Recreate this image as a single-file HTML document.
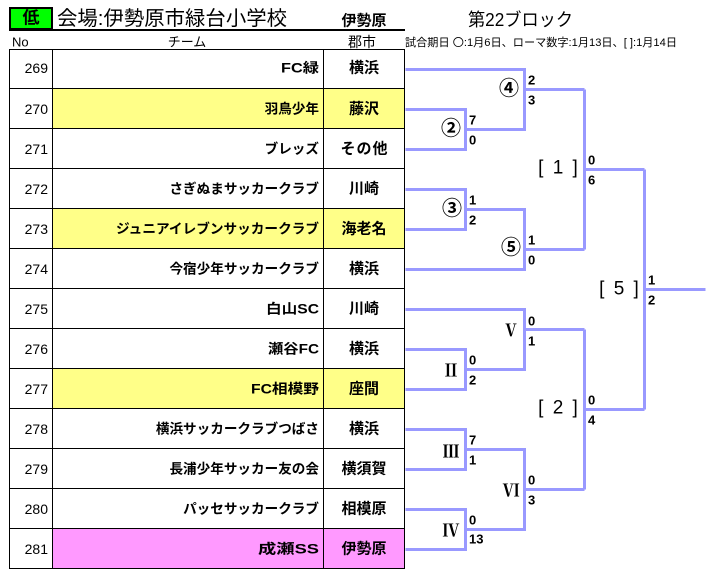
<!DOCTYPE html>
<html><head><meta charset="utf-8"><style>
html,body{margin:0;padding:0;background:#fff;}
svg{display:block;}
text{font-family:"Liberation Sans","Noto Sans CJK JP",sans-serif;}
.no{font-size:14px;text-anchor:end;}
.tm{font-size:13.6px;font-weight:bold;text-anchor:end;}
.ct{font-size:15px;font-weight:bold;text-anchor:middle;}
.sc{font-size:13px;font-weight:bold;}
.lb{font-size:20px;text-anchor:middle;font-weight:bold;}
.rm{font-family:"Noto Serif CJK SC","Liberation Serif",serif;font-size:17px;text-anchor:middle;font-weight:bold;}
.br{font-size:19px;text-anchor:middle;}
</style></head><body>
<svg width="714" height="574" viewBox="0 0 714 574" xmlns="http://www.w3.org/2000/svg" dominant-baseline="central">
<!-- header -->
<rect x="10" y="8" width="42" height="21" fill="#00ff00" stroke="#000" stroke-width="2"/>
<text x="31" y="18" font-size="17" font-weight="bold" text-anchor="middle">低</text>
<text x="57" y="19" font-size="20" textLength="230" lengthAdjust="spacingAndGlyphs">会場:伊勢原市緑台小学校</text>
<text x="364" y="21" font-size="15" font-weight="bold" text-anchor="middle">伊勢原</text>
<rect x="9" y="29" width="396" height="2" fill="#000"/>
<text x="12" y="42" font-size="13">No</text>
<text x="187" y="42" font-size="13" text-anchor="middle">チーム</text>
<text x="362" y="42" font-size="14" text-anchor="middle">郡市</text>
<text x="468" y="20" font-size="18" textLength="105" lengthAdjust="spacingAndGlyphs">第22ブロック</text>
<text x="405" y="43" font-size="11" textLength="272" lengthAdjust="spacingAndGlyphs">試合期日 〇:1月6日、ローマ数字:1月13日、[ ]:1月14日</text>

<!-- fills -->
<rect x="53" y="89" width="351" height="39" fill="#ffff88"/>
<rect x="53" y="209" width="351" height="39" fill="#ffff88"/>
<rect x="53" y="369" width="351" height="39" fill="#ffff88"/>
<rect x="53" y="529" width="351" height="39" fill="#ff99ff"/>

<!-- table grid -->
<g stroke="#000" stroke-width="1" fill="none">
<line x1="9" y1="49.5" x2="405" y2="49.5"/>
<line x1="9" y1="88.5" x2="405" y2="88.5"/>
<line x1="9" y1="128.5" x2="405" y2="128.5"/>
<line x1="9" y1="168.5" x2="405" y2="168.5"/>
<line x1="9" y1="208.5" x2="405" y2="208.5"/>
<line x1="9" y1="248.5" x2="405" y2="248.5"/>
<line x1="9" y1="288.5" x2="405" y2="288.5"/>
<line x1="9" y1="328.5" x2="405" y2="328.5"/>
<line x1="9" y1="368.5" x2="405" y2="368.5"/>
<line x1="9" y1="408.5" x2="405" y2="408.5"/>
<line x1="9" y1="448.5" x2="405" y2="448.5"/>
<line x1="9" y1="488.5" x2="405" y2="488.5"/>
<line x1="9" y1="528.5" x2="405" y2="528.5"/>
<line x1="9" y1="568.5" x2="405" y2="568.5"/>
<line x1="9.5" y1="49" x2="9.5" y2="569"/>
<line x1="52.5" y1="49" x2="52.5" y2="569"/>
<line x1="323.5" y1="49" x2="323.5" y2="569"/>
<line x1="404.5" y1="49" x2="404.5" y2="569"/>
</g>

<!-- table text -->
<text class="no" x="48" y="68">269</text>
<text class="tm" x="319" y="68" textLength="38" lengthAdjust="spacingAndGlyphs">FC緑</text>
<text class="ct" x="364" y="68">横浜</text>

<text class="no" x="48" y="109">270</text>
<text class="tm" x="319" y="109">羽鳥少年</text>
<text class="ct" x="364" y="109">藤沢</text>

<text class="no" x="48" y="149">271</text>
<text class="tm" x="319" y="149">ブレッズ</text>
<text class="ct" x="364" y="149" textLength="47" lengthAdjust="spacing">その他</text>

<text class="no" x="48" y="189">272</text>
<text class="tm" x="319" y="189">さぎぬまサッカークラブ</text>
<text class="ct" x="364" y="189">川崎</text>

<text class="no" x="48" y="229">273</text>
<text class="tm" x="319" y="229" textLength="203" lengthAdjust="spacingAndGlyphs">ジュニアイレブンサッカークラブ</text>
<text class="ct" x="364" y="229">海老名</text>

<text class="no" x="48" y="269">274</text>
<text class="tm" x="319" y="269">今宿少年サッカークラブ</text>
<text class="ct" x="364" y="269">横浜</text>

<text class="no" x="48" y="309">275</text>
<text class="tm" x="319" y="309" textLength="53" lengthAdjust="spacingAndGlyphs">白山SC</text>
<text class="ct" x="364" y="309">川崎</text>

<text class="no" x="48" y="349">276</text>
<text class="tm" x="319" y="349" textLength="51" lengthAdjust="spacingAndGlyphs">瀬谷FC</text>
<text class="ct" x="364" y="349">横浜</text>

<text class="no" x="48" y="389">277</text>
<text class="tm" x="319" y="389" textLength="68" lengthAdjust="spacingAndGlyphs">FC相模野</text>
<text class="ct" x="364" y="389">座間</text>

<text class="no" x="48" y="429">278</text>
<text class="tm" x="319" y="429">横浜サッカークラブつばさ</text>
<text class="ct" x="364" y="429">横浜</text>

<text class="no" x="48" y="469">279</text>
<text class="tm" x="319" y="469">長浦少年サッカー友の会</text>
<text class="ct" x="364" y="469">横須賀</text>

<text class="no" x="48" y="509">280</text>
<text class="tm" x="319" y="509">パッセサッカークラブ</text>
<text class="ct" x="364" y="509">相模原</text>

<text class="no" x="48" y="549">281</text>
<text class="tm" x="319" y="549" textLength="61" lengthAdjust="spacingAndGlyphs">成瀬SS</text>
<text class="ct" x="364" y="549">伊勢原</text>

<!-- bracket lines -->
<g stroke="#9999ff" stroke-width="3" fill="none" stroke-linejoin="miter" transform="translate(0.5,0.5)">
<path d="M405 69 H524 V129 H465"/>
<path d="M405 109 H465 V149 H405"/>
<path d="M524 89 H584"/>
<path d="M405 189 H465 V229 H405"/>
<path d="M465 209 H524 V269 H405"/>
<path d="M524 249 H584"/>
<path d="M584 89 V249"/>
<path d="M584 169 H644"/>
<path d="M405 309 H524 V369 H465"/>
<path d="M405 349 H465 V389 H405"/>
<path d="M524 329 H584"/>
<path d="M405 429 H465 V469 H405"/>
<path d="M465 449 H524 V529 H465"/>
<path d="M405 509 H465 V549 H405"/>
<path d="M524 489 H584"/>
<path d="M584 329 V489"/>
<path d="M584 409 H644"/>
<path d="M644 169 V409"/>
<path d="M644 289 H705"/>
</g>

<!-- match labels -->
<text class="lb" x="509" y="89">④</text>
<text class="lb" x="451" y="129">②</text>
<text class="lb" x="452" y="209">③</text>
<text class="lb" x="511" y="248">⑤</text>
<text class="rm" x="511" y="329">Ⅴ</text>
<text class="rm" x="451" y="369">Ⅱ</text>
<text class="rm" x="451" y="450">Ⅲ</text>
<text class="rm" x="511" y="489">Ⅵ</text>
<text class="rm" x="451" y="529">Ⅳ</text>
<text class="br" x="559" y="168" letter-spacing="2">[ 1 ]</text>
<text class="br" x="559" y="408" letter-spacing="2">[ 2 ]</text>
<text class="br" x="620" y="289" letter-spacing="2">[ 5 ]</text>

<!-- scores -->
<text class="sc" x="469" y="120">7</text>
<text class="sc" x="469" y="140">0</text>
<text class="sc" x="469" y="200">1</text>
<text class="sc" x="469" y="220">2</text>
<text class="sc" x="469" y="360">0</text>
<text class="sc" x="469" y="380">2</text>
<text class="sc" x="469" y="440">7</text>
<text class="sc" x="469" y="460">1</text>
<text class="sc" x="469" y="520">0</text>
<text class="sc" x="469" y="539">13</text>

<text class="sc" x="528" y="80">2</text>
<text class="sc" x="528" y="100">3</text>
<text class="sc" x="528" y="240">1</text>
<text class="sc" x="528" y="260">0</text>
<text class="sc" x="528" y="321">0</text>
<text class="sc" x="528" y="341">1</text>
<text class="sc" x="528" y="480">0</text>
<text class="sc" x="528" y="500">3</text>

<text class="sc" x="588" y="160">0</text>
<text class="sc" x="588" y="180">6</text>
<text class="sc" x="588" y="400">0</text>
<text class="sc" x="588" y="420">4</text>

<text class="sc" x="648" y="280">1</text>
<text class="sc" x="648" y="300">2</text>
</svg>
</body></html>
